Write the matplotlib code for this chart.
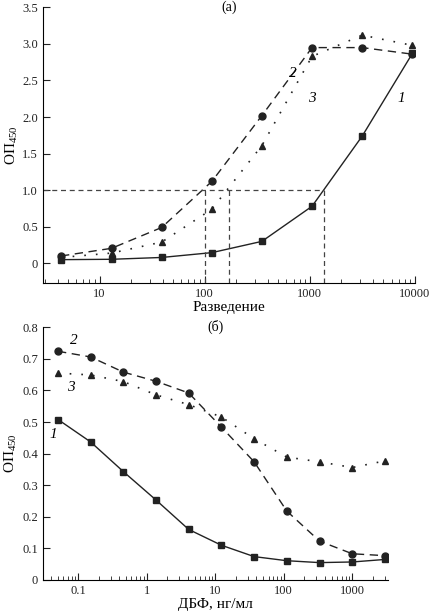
import numpy as np
import matplotlib
matplotlib.use('Agg')
import matplotlib.pyplot as plt
import matplotlib.ticker as ticker

plt.rcParams['font.family'] = ['Liberation Serif', 'DejaVu Serif']
plt.rcParams['mathtext.fontset'] = 'custom'
plt.rcParams['mathtext.rm'] = 'Liberation Serif'

# (a) titration curves
dilution = [4.3, 13, 39, 117, 350, 1050, 3150, 9450]
od_a1 = [0.05, 0.055, 0.08, 0.146, 0.30, 0.78, 1.74, 2.87]
od_a2 = [0.10, 0.205, 0.49, 1.12, 2.02, 2.95, 2.95, 2.86]
od_a3 = [0.08, 0.14, 0.29, 0.74, 1.61, 2.83, 3.12, 2.98]
titre = [100, 172, 1350]   # dilutions where OD = 1.0

# (b) competitive curves
dbf = [0.0508, 0.152, 0.457, 1.37, 4.1, 12.3, 37, 111, 333, 1000, 3000]
od_b1 = [0.508, 0.437, 0.343, 0.253, 0.160, 0.110, 0.074, 0.061, 0.055, 0.057, 0.065]
od_b2 = [0.724, 0.706, 0.658, 0.629, 0.592, 0.484, 0.374, 0.218, 0.123, 0.083, 0.077]
od_b3 = [0.655, 0.649, 0.628, 0.586, 0.555, 0.516, 0.447, 0.389, 0.374, 0.356, 0.377]

fig = plt.figure(figsize=(4.31, 6.14), dpi=100)
ax1 = fig.add_axes([0.0998, 0.539, 0.863, 0.449])
ax2 = fig.add_axes([0.0998, 0.0554, 0.800, 0.4116])

sty1 = dict(color='#222222', lw=1.0, ls='-', marker='s', ms=4.5)
sty2 = dict(color='#222222', lw=1.0, ls=(0, (6, 4)), marker='o', ms=5)
sty3 = dict(color='#222222', lw=1.2, ls=(0, (1, 6)), marker='^', ms=5)

def style(ax):
    ax.set_xscale('log')
    for s in ['top', 'right']:
        ax.spines[s].set_visible(False)
    ax.tick_params(which='both', direction='in', labelsize=9, colors='#222222')
    ax.tick_params(which='major', length=5)
    ax.tick_params(which='minor', length=3)
    ax.xaxis.set_minor_locator(ticker.LogLocator(subs=np.arange(2, 10)))
    ax.xaxis.set_minor_formatter(ticker.NullFormatter())
    ax.xaxis.set_major_formatter(ticker.FuncFormatter(lambda v, p: '%g' % v))
    ax.yaxis.set_major_formatter(ticker.FuncFormatter(lambda v, p: '0' if v == 0 else '%.1f' % v))
    ax.set_ylabel('ОП$_{450}$', fontsize=11, labelpad=2)

# top panel
ax1.plot(dilution, od_a1, **sty1)
ax1.plot(dilution, od_a2, **sty2)
ax1.plot(dilution, od_a3, **sty3)
ax1.hlines(1.0, 2.9, titre[-1], colors='#444444', lw=0.9, ls=(0, (4, 3)))
ax1.vlines(titre, -0.27, 1.0, colors='#444444', lw=0.9, ls=(0, (4, 3)))
style(ax1)
ax1.set_xlim(2.9, 10000)
ax1.set_ylim(-0.27, 3.5)
ax1.set_yticks(np.arange(0, 3.51, 0.5))
ax1.set_xlabel('Разведение', fontsize=11, labelpad=1)
ax1.text(0.5, 1.0, '(a)', transform=ax1.transAxes, ha='center', va='center', fontsize=10)
ax1.text(690, 2.6, '2', style='italic', fontsize=11, ha='center', va='center')
ax1.text(1050, 2.25, '3', style='italic', fontsize=11, ha='center', va='center')
ax1.text(7400, 2.25, '1', style='italic', fontsize=11, ha='center', va='center')

# bottom panel
ax2.plot(dbf, od_b1, **sty1)
ax2.plot(dbf, od_b2, **sty2)
ax2.plot(dbf, od_b3, **sty3)
style(ax2)
ax2.set_xlim(0.0307, 3300)
ax2.set_ylim(0, 0.8)
ax2.set_yticks(np.arange(0, 0.81, 0.1))
ax2.set_xlabel('ДБФ, нг/мл', fontsize=11, labelpad=1)
ax2.text(0.5, 1.0, '(б)', transform=ax2.transAxes, ha='center', va='center', fontsize=10)
ax2.text(0.085, 0.757, '2', style='italic', fontsize=11, ha='center', va='center')
ax2.text(0.078, 0.61, '3', style='italic', fontsize=11, ha='center', va='center')
ax2.text(0.044, 0.46, '1', style='italic', fontsize=11, ha='center', va='center')

fig.savefig('out.png', dpi=100)
